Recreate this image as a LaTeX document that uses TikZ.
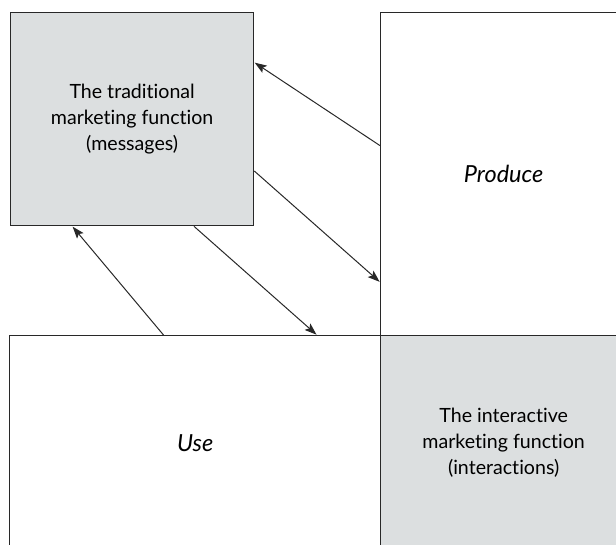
\documentclass[tikz,border=0pt]{standalone}
\usepackage{fontspec}
\setmainfont{Lato}[Ligatures={NoCommon,NoContextual}]
\usetikzlibrary{calc,arrows.meta}
\definecolor{panelgray}{RGB}{220,223,224}
\definecolor{edge}{RGB}{40,40,40}
\begin{document}
\begin{tikzpicture}[x=1pt,y=-1pt,
  panel/.style={draw=edge, line width=1.3pt, rectangle, inner sep=0pt, anchor=north west, align=center},
  boxtext/.style={font=\fontsize{19.6}{26}\selectfont},
  axistext/.style={font=\fontsize{23.5}{26}\selectfont\itshape},
  flow/.style={-{Stealth[length=12pt,width=8.5pt,inset=2.5pt]}, line width=1pt, draw=edge, shorten >=0.5pt}
]
\useasboundingbox (0,0) rectangle (616,545);
\clip (0,0) rectangle (616,545);
% four panels of the quadrant
\node[panel, fill=panelgray, boxtext, minimum width=243pt, minimum height=213pt] (trad) at (10,12)
  {The traditional\\marketing function\\(messages)};
\node[panel, fill=white, axistext, minimum width=246pt, minimum height=323pt] (produce) at (380,12) {Produce};
\node[panel, fill=white, axistext, minimum width=371pt, minimum height=215pt] (use) at (9,335) {Use};
\node[panel, fill=panelgray, boxtext, minimum width=246pt, minimum height=215pt] (inter) at (380,335)
  {The interactive\\marketing function\\(interactions)};
% message flows
\draw[flow] ($(produce.north west)!0.412!(produce.south west)$) -- ($(trad.north east)!0.235!(trad.south east)$);
\draw[flow] ($(trad.north east)!0.742!(trad.south east)$) -- ($(produce.north west)!0.833!(produce.south west)$);
\draw[flow] ($(use.north west)!0.415!(use.north east)$) -- ($(trad.south west)!0.255!(trad.south east)$);
\draw[flow] ($(trad.south west)!0.753!(trad.south east)$) -- ($(use.north west)!0.827!(use.north east)$);
\end{tikzpicture}
\end{document}
